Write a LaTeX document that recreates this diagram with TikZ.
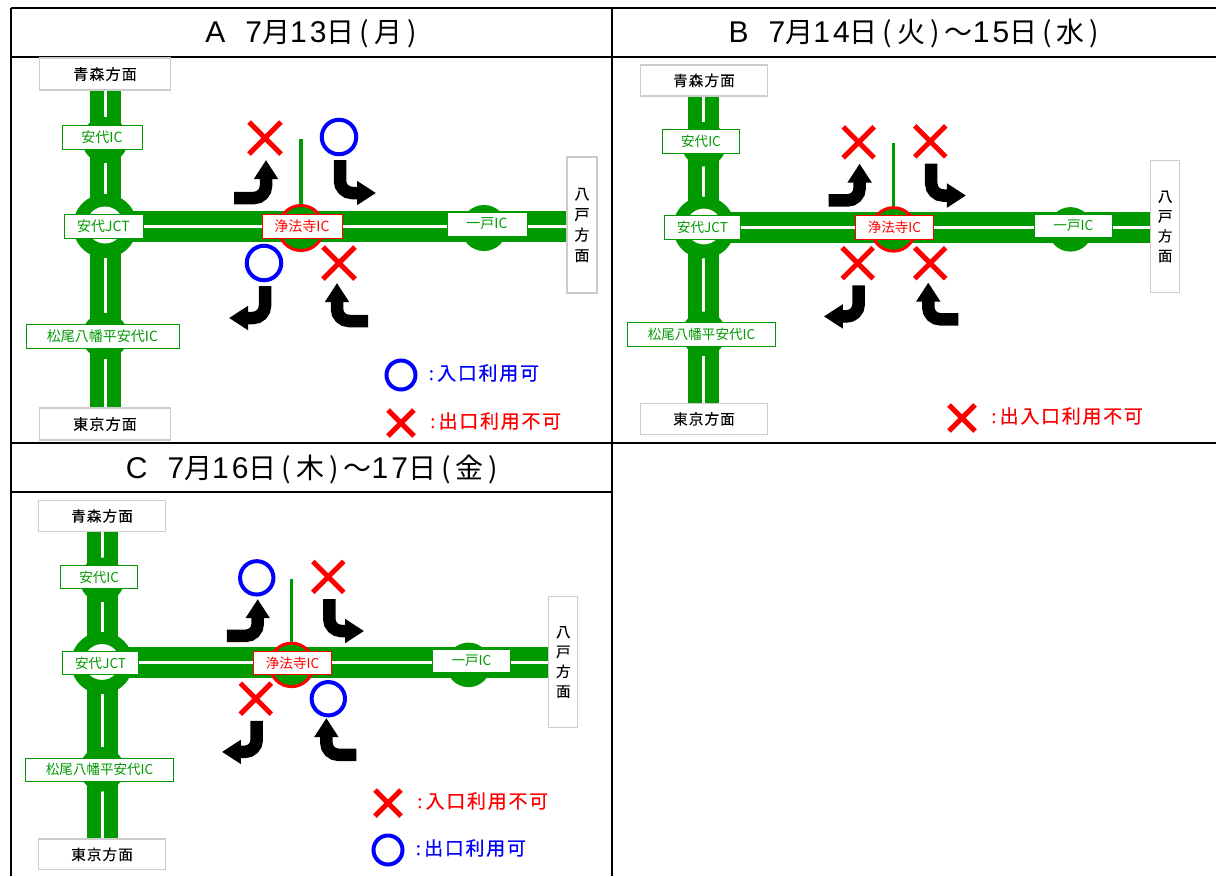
\documentclass[tikz,border=0pt]{standalone}
\usepackage{fontspec}
\usepackage{tikz}
\usetikzlibrary{arrows.meta,positioning,backgrounds,shapes.misc}
\setmainfont{Noto Sans CJK JP}
\newfontfamily\lgfont[LetterSpace=9,FakeBold=0.4]{Noto Sans CJK JP}
\newfontfamily\dirfont[LetterSpace=8,FakeBold=0.2]{Noto Sans CJK JP}
\newfontfamily\titlefont[LetterSpace=18]{Noto Sans CJK JP}
\newfontfamily\titlelat[LetterSpace=10]{Liberation Sans}
\newcommand{\lat}[1]{{\titlelat\fontsize{30}{32}\selectfont #1}}
\definecolor{roadgreen}{RGB}{0,153,0}

\tikzset{
    road/.style={draw=roadgreen,line width=31pt},
    roadline/.style={draw=white,line width=3pt},
    stem/.style={draw=roadgreen,line width=3.5pt},
    icdisc/.style={circle,fill=roadgreen,inner sep=0,minimum size=46pt},
    jctdisc/.style={circle,fill=roadgreen,inner sep=0,minimum size=64pt},
    jctinner/.style={circle,fill=white,inner sep=0,minimum size=37pt},
    curdisc/.style={circle,fill=roadgreen,draw=red,line width=3pt,inner sep=0,minimum size=45pt},
    iclabel/.style={rectangle,fill=white,draw=roadgreen,line width=.8pt,text=roadgreen,
        font=\fontsize{14}{16}\selectfont,inner sep=0,minimum height=24pt},
    curlabel/.style={iclabel,draw=red,text=red},
    dirlabel/.style={rectangle,fill=white,draw=black!20,line width=1.2pt,
        font=\dirfont\fontsize{15}{20.5}\selectfont,inner sep=0,align=center},
    maru/.style={circle,draw=blue,line width=4pt,inner sep=0,minimum size=34.5pt},
    batsu/.style={cross out,draw=red,line width=5pt,inner sep=0,minimum size=27pt,line cap=butt},
    lgbatsu/.style={cross out,draw=red,line width=5pt,inner sep=0,minimum size=21pt},
    turn/.style={draw=black,line width=12.5pt,rounded corners=12pt,
        -{Triangle[length=19pt,width=23pt]}},
    frameline/.style={draw=black,line width=2pt},
    daytitle/.style={font=\titlefont\fontsize{28}{32}\selectfont,inner sep=0},
    lgtext/.style={font=\lgfont\fontsize{19}{22}\selectfont,inner sep=0,yshift=2pt}
}

% one road map: suffix, shift x, shift y, scale, marks nw ne sw se
\newcommand{\icmap}[8]{
\begin{scope}[shift={(#2,#3)},scale=#4,transform shape]
    \node[icdisc] (yasC#1) at (105,140) {};
    \node[icdisc] (matC#1) at (105,336) {};
    \node[icdisc] (ichiC#1) at (484,228) {};
    \node[jctdisc] (jctC#1) at (105,226) {};
    \node[jctinner] (jctI#1) at (105,225) {};
    \node[curdisc] (curC#1) at (301,228) {};

    \node[dirlabel,minimum width=131pt,minimum height=32pt] (north#1) at (105,74) {青森方面};
    \node[dirlabel,minimum width=131pt,minimum height=32pt] (south#1) at (105,424) {東京方面};
    \node[dirlabel,minimum width=30pt,minimum height=136pt] (east#1) at (582,225) {八\\戸\\方\\面};
    \node[iclabel,minimum width=80pt] (yas#1) at (102,137) {安代IC};
    \node[iclabel,minimum width=79pt] (jct#1) at (103.5,226) {安代JCT};
    \node[iclabel,minimum width=153pt] (mat#1) at (102.5,336.5) {松尾八幡平安代IC};
    \node[iclabel,minimum width=80pt] (ichi#1) at (487,224) {一戸IC};
    \node[curlabel,minimum width=80pt] (cur#1) at (302,226) {浄法寺IC};

    \node[#5] (nw#1) at (265,138) {};
    \node[#6] (ne#1) at (339,137) {};
    \node[#7] (sw#1) at (264,263) {};
    \node[#8] (se#1) at (339,263) {};

    \coordinate (stemT#1) at (301,139);
    \coordinate (nwA#1) at (234,198);
    \coordinate (nwB#1) at (266,160);
    \coordinate (neA#1) at (340,160);
    \coordinate (neB#1) at (376,193);
    \coordinate (swA#1) at (265,286);
    \coordinate (swB#1) at (229,318);
    \coordinate (seA#1) at (368,321);
    \coordinate (seB#1) at (337,283);

    \begin{scope}[on background layer]
        \draw[road] (north#1) -- (south#1);
        \draw[road] (jctC#1.center) -- (jctC#1 -| east#1.west);
        \draw[roadline] (north#1) -- (south#1);
        \draw[roadline] (jct#1) -- (jctC#1 -| east#1.west);
    \end{scope}
    \draw[stem] (stemT#1) -- (curC#1.north);

    \draw[turn] (nwA#1) -| (nwB#1);
    \draw[turn] (neA#1) |- (neB#1);
    \draw[turn] (swA#1) |- (swB#1);
    \draw[turn] (seA#1) -| (seB#1);
\end{scope}
}

\begin{document}
\begin{tikzpicture}[x=1pt,y=-1pt]
\useasboundingbox (0,0) rectangle (1216,876);

% table lines
\draw[frameline] (11,8) -- (1216,8);
\draw[frameline] (11,56.5) -- (1216,56.5);
\draw[frameline] (11,443) -- (1216,443);
\draw[frameline] (11,492) -- (612,492);
\draw[frameline] (11,8) -- (11,876);
\draw[frameline] (612,8) -- (612,876);

\node[daytitle] (titleA) at (311,33.5) {\lat{A}\hspace{20pt}\lat{7}月\lat{13}日(月)};
\node[daytitle] (titleB) at (914,33.5) {\lat{B}\hspace{20pt}\lat{7}月\lat{14}日(火)～\lat{15}日(水)};
\node[daytitle] (titleC) at (312,469.5) {\lat{C}\hspace{20pt}\lat{7}月\lat{16}日(木)～\lat{17}日(金)};

\icmap{A}{0}{0}{1}{batsu}{maru}{maru}{batsu}
\icmap{B}{602.4}{8.9}{.967}{batsu}{batsu}{batsu}{batsu}
\icmap{C}{0.5}{444.4}{.967}{maru}{batsu}{batsu}{maru}

% legends
\node[maru,minimum size=29pt] (lgA1) at (401,375) {};
\node[lgbatsu] (lgA2) at (401,423) {};
\node[lgtext,text=blue,right=11pt of lgA1] (lgA1t) {:\,入口利用可};
\node[lgtext,text=red,right=16pt of lgA2] (lgA2t) {:\,出口利用不可};

\node[lgbatsu] (lgB1) at (962,418) {};
\node[lgtext,text=red,right=16pt of lgB1] (lgB1t) {:\,出入口利用不可};

\node[lgbatsu] (lgC1) at (388,803) {};
\node[maru,minimum size=29pt] (lgC2) at (388,850) {};
\node[lgtext,text=red,right=16pt of lgC1] (lgC1t) {:\,入口利用不可};
\node[lgtext,text=blue,right=11pt of lgC2] (lgC2t) {:\,出口利用可};
\end{tikzpicture}
\end{document}
